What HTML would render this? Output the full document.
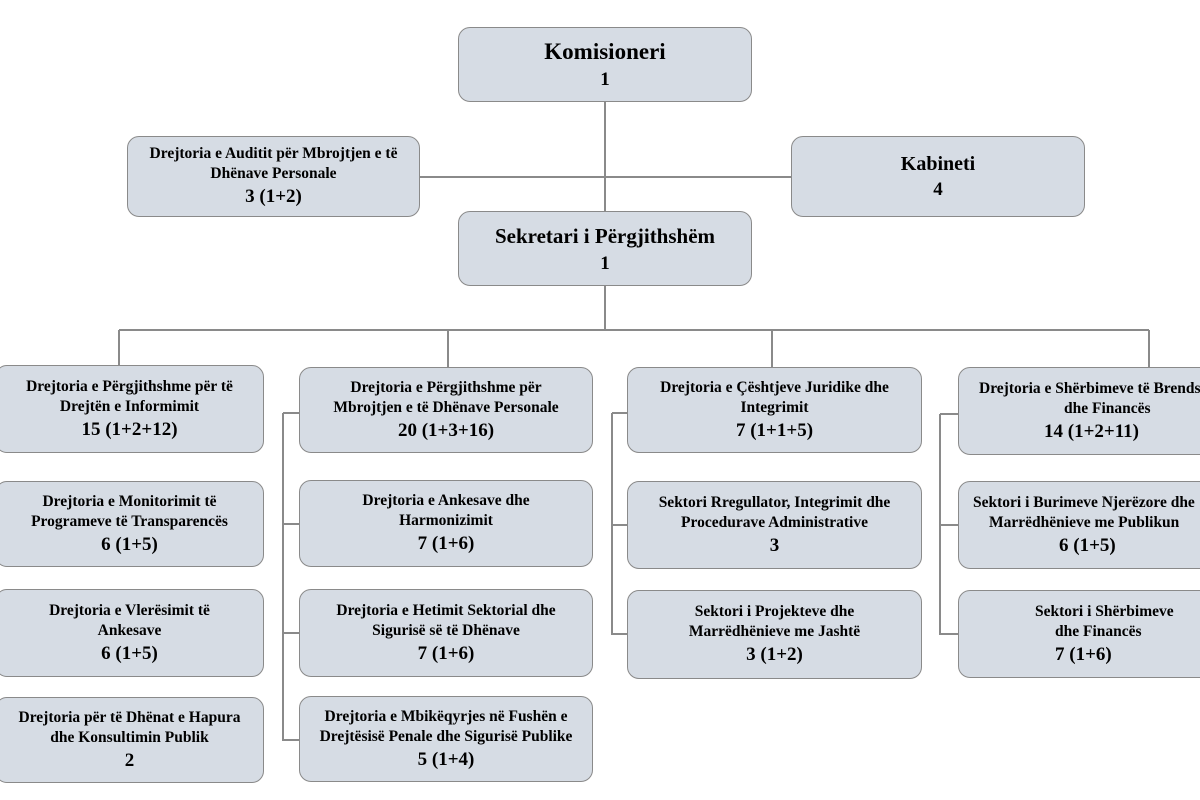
<!DOCTYPE html><html><head><meta charset="utf-8"><style>
body{margin:0;width:1200px;height:800px;background:#fff;position:relative;overflow:hidden;font-family:"Liberation Serif","Times New Roman","DejaVu Serif",serif;font-weight:bold;color:#000}
.b{position:absolute;background:#d6dce4;border:1.5px solid #8a8a8a;border-radius:12px;box-sizing:border-box;display:flex;flex-direction:column;justify-content:center;align-items:center;text-align:center;font-family:"Liberation Serif","Times New Roman","DejaVu Serif",serif;font-size:15.5px;line-height:20px;white-space:nowrap}
.b .n{font-size:19px;line-height:25px}
.b .t{font-size:23px;line-height:30px}
svg{position:absolute;left:0;top:0}
</style></head><body>
<svg width="1200" height="800"><g stroke="#8a8a8a" stroke-width="2" fill="none">
<path d="M605 102V211M420 177H791M605 286V330M119 330H1149M119 330V365M448 330V367M772 330V367M1149 330V367"/>
<path d="M283 413V740H299M283 413H299M283 524H299M283 633H299"/>
<path d="M612 413V634H627M612 413H627M612 525H627"/>
<path d="M940 414V634H958M940 414H958M940 525H958"/>
</g></svg>
<div class="b" style="left:458px;top:27px;width:294px;height:75px"><div class="t">Komisioneri</div><div class="n">1</div></div>
<div class="b" style="left:127px;top:136px;width:293px;height:81px"><div>Drejtoria e Auditit për Mbrojtjen e të</div><div>Dhënave Personale</div><div class="n">3 (1+2)</div></div>
<div class="b" style="left:791px;top:136px;width:294px;height:81px"><div class="n" style="font-size:20px">Kabineti</div><div class="n">4</div></div>
<div class="b" style="left:458px;top:211px;width:294px;height:75px"><div class="n" style="font-size:21px;line-height:29px">Sekretari i Përgjithshëm</div><div class="n">1</div></div>

<div class="b" style="left:-5px;top:365px;width:269px;height:88px"><div>Drejtoria e Përgjithshme për të</div><div>Drejtën e Informimit</div><div class="n">15 (1+2+12)</div></div>
<div class="b" style="left:-5px;top:481px;width:269px;height:86px"><div>Drejtoria e Monitorimit të</div><div>Programeve të Transparencës</div><div class="n">6 (1+5)</div></div>
<div class="b" style="left:-5px;top:589px;width:269px;height:88px"><div>Drejtoria e Vlerësimit të</div><div>Ankesave</div><div class="n">6 (1+5)</div></div>
<div class="b" style="left:-5px;top:697px;width:269px;height:86px"><div>Drejtoria për të Dhënat e Hapura</div><div>dhe Konsultimin Publik</div><div class="n">2</div></div>

<div class="b" style="left:299px;top:367px;width:294px;height:86px"><div>Drejtoria e Përgjithshme për</div><div>Mbrojtjen e të Dhënave Personale</div><div class="n">20 (1+3+16)</div></div>
<div class="b" style="left:299px;top:480px;width:294px;height:87px"><div>Drejtoria e Ankesave dhe</div><div>Harmonizimit</div><div class="n">7 (1+6)</div></div>
<div class="b" style="left:299px;top:589px;width:294px;height:88px"><div>Drejtoria e Hetimit Sektorial dhe</div><div>Sigurisë së të Dhënave</div><div class="n">7 (1+6)</div></div>
<div class="b" style="left:299px;top:696px;width:294px;height:86px"><div>Drejtoria e Mbikëqyrjes në Fushën e</div><div>Drejtësisë Penale dhe Sigurisë Publike</div><div class="n">5 (1+4)</div></div>

<div class="b" style="left:627px;top:367px;width:295px;height:86px"><div>Drejtoria e Çështjeve Juridike dhe</div><div>Integrimit</div><div class="n">7 (1+1+5)</div></div>
<div class="b" style="left:627px;top:481px;width:295px;height:88px"><div>Sektori Rregullator, Integrimit dhe</div><div>Procedurave Administrative</div><div class="n">3</div></div>
<div class="b" style="left:627px;top:590px;width:295px;height:89px"><div>Sektori i Projekteve dhe</div><div>Marrëdhënieve me Jashtë</div><div class="n">3 (1+2)</div></div>

<div class="b" style="left:958px;top:367px;width:290px;height:88px;align-items:flex-start;padding-left:20px"><div>Drejtoria e Shërbimeve të Brendshme</div><div style="padding-left:85px">dhe Financës</div><div class="n" style="padding-left:65px">14 (1+2+11)</div></div>
<div class="b" style="left:958px;top:481px;width:290px;height:88px;align-items:flex-start;padding-left:14px"><div>Sektori i Burimeve Njerëzore dhe</div><div style="padding-left:16px">Marrëdhënieve me Publikun</div><div class="n" style="padding-left:86px">6 (1+5)</div></div>
<div class="b" style="left:958px;top:590px;width:290px;height:88px;align-items:flex-start;padding-left:0"><div style="padding-left:76px">Sektori i Shërbimeve</div><div style="padding-left:96px">dhe Financës</div><div class="n" style="padding-left:96px">7 (1+6)</div></div>
</body></html>
